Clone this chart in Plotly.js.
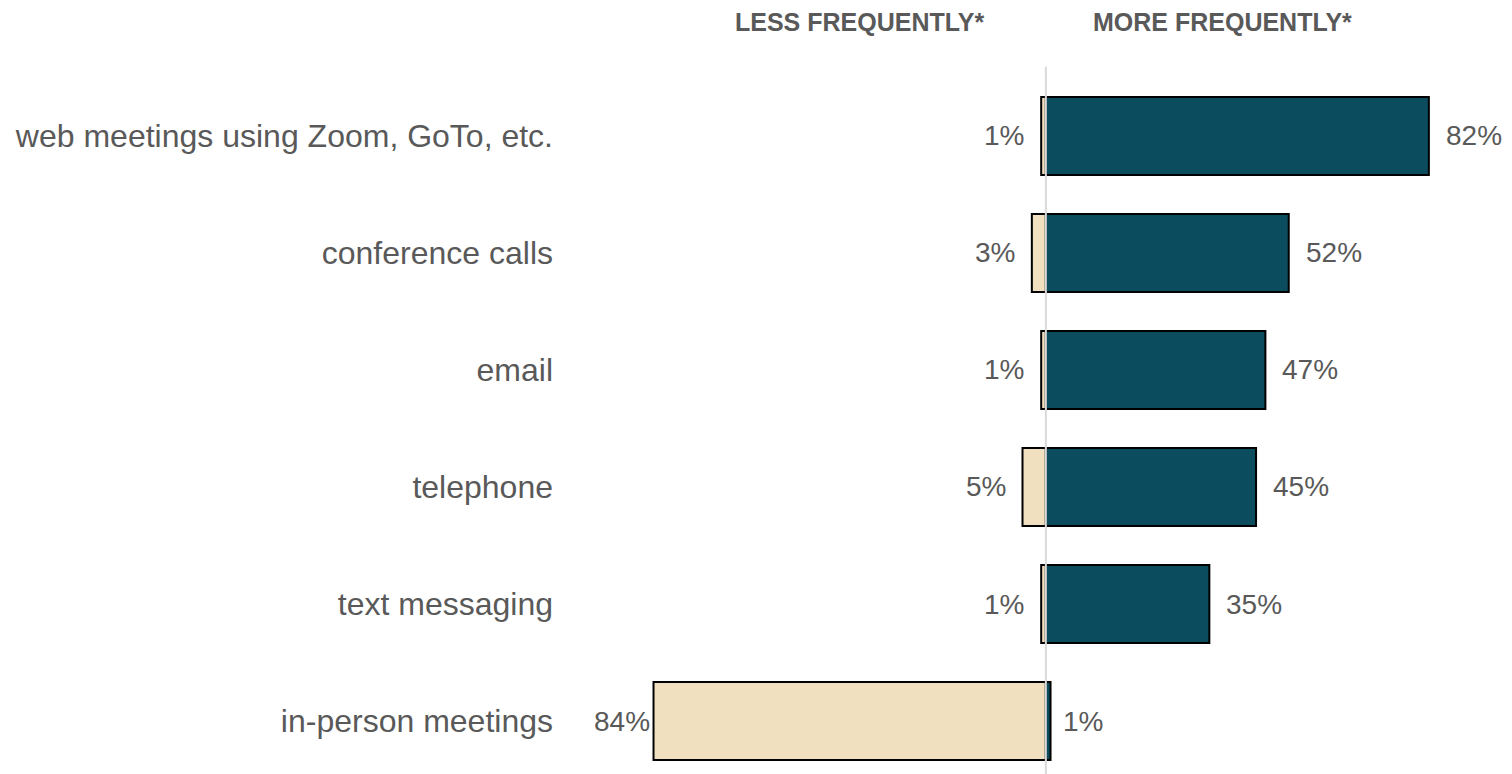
<!DOCTYPE html>
<html>
<head>
<meta charset="utf-8">
<script src="https://cdn.plot.ly/plotly-3.0.1.min.js"></script>
<style>
  html, body { margin: 0; padding: 0; background: #fff; }
  #plot { width: 1512px; height: 774px; }
</style>
</head>
<body>
<div id="plot"></div>
<script>
// data
var channels = ['web meetings using Zoom, GoTo, etc.', 'conference calls', 'email',
  'telephone', 'text messaging', 'in-person meetings'];
var lessOften = [1, 3, 1, 5, 1, 84];
var moreOften = [82, 52, 47, 45, 35, 1];
var headers = ['LESS FREQUENTLY*', 'MORE FREQUENTLY*'];

var gray = '#595959';
var font = 'Liberation Sans, Arial, sans-serif';

var less = {
  y: channels,
  x: lessOften.map(function (v) { return -v; }),
  type: 'bar',
  orientation: 'h',
  marker: { color: '#F1E0C0', line: { color: '#000', width: 2 } },
  hoverinfo: 'skip'
};

var more = {
  y: channels,
  x: moreOften,
  type: 'bar',
  orientation: 'h',
  marker: { color: '#0B4D5F', line: { color: '#000', width: 2 } },
  hoverinfo: 'skip'
};

var data = [less, more];

// value labels sit just past the end of each bar
var notes = [];
channels.forEach(function (c, i) {
  notes.push({
    x: -lessOften[i], y: c, xref: 'x', yref: 'y',
    text: lessOften[i] + '%', showarrow: false, xanchor: 'right',
    xshift: lessOften[i] > 50 ? -2 : -15,
    font: { family: font, size: 28, color: gray }
  });
  notes.push({
    x: moreOften[i], y: c, xref: 'x', yref: 'y',
    text: moreOften[i] + '%', showarrow: false, xanchor: 'left',
    xshift: moreOften[i] < 5 ? 10 : 15,
    font: { family: font, size: 28, color: gray }
  });
});
notes.push({ x: -39.8, y: 1, xref: 'x', yref: 'paper', yanchor: 'bottom', yshift: 32,
  text: '<b>' + headers[0] + '</b>', showarrow: false,
  font: { family: font, size: 25, color: gray } });
notes.push({ x: 37.9, y: 1, xref: 'x', yref: 'paper', yanchor: 'bottom', yshift: 32,
  text: '<b>' + headers[1] + '</b>', showarrow: false,
  font: { family: font, size: 25, color: gray } });

var layout = {
  width: 1512,
  height: 774,
  margin: { l: 590, r: 0, t: 70, b: 0 },
  paper_bgcolor: '#fff',
  plot_bgcolor: '#fff',
  barmode: 'overlay',
  bargap: 0.333,
  showlegend: false,
  xaxis: {
    range: [-97.6, 99.8],
    showgrid: false, zeroline: false, showticklabels: false, showline: false
  },
  yaxis: {
    type: 'category',
    range: [5.453, -0.564],
    showgrid: false, zeroline: false, showline: false, ticks: '',
    ticklabelstandoff: 36,
    tickfont: { family: font, size: 32, color: gray }
  },
  shapes: [{
    type: 'line', layer: 'above', xref: 'x', yref: 'paper',
    x0: 0, x1: 0, y0: 0, y1: 1.005,
    line: { color: '#D9D9D9', width: 2 }
  }],
  annotations: notes
};

Plotly.newPlot('plot', data, layout, { displayModeBar: false, staticPlot: true });
</script>
</body>
</html>
